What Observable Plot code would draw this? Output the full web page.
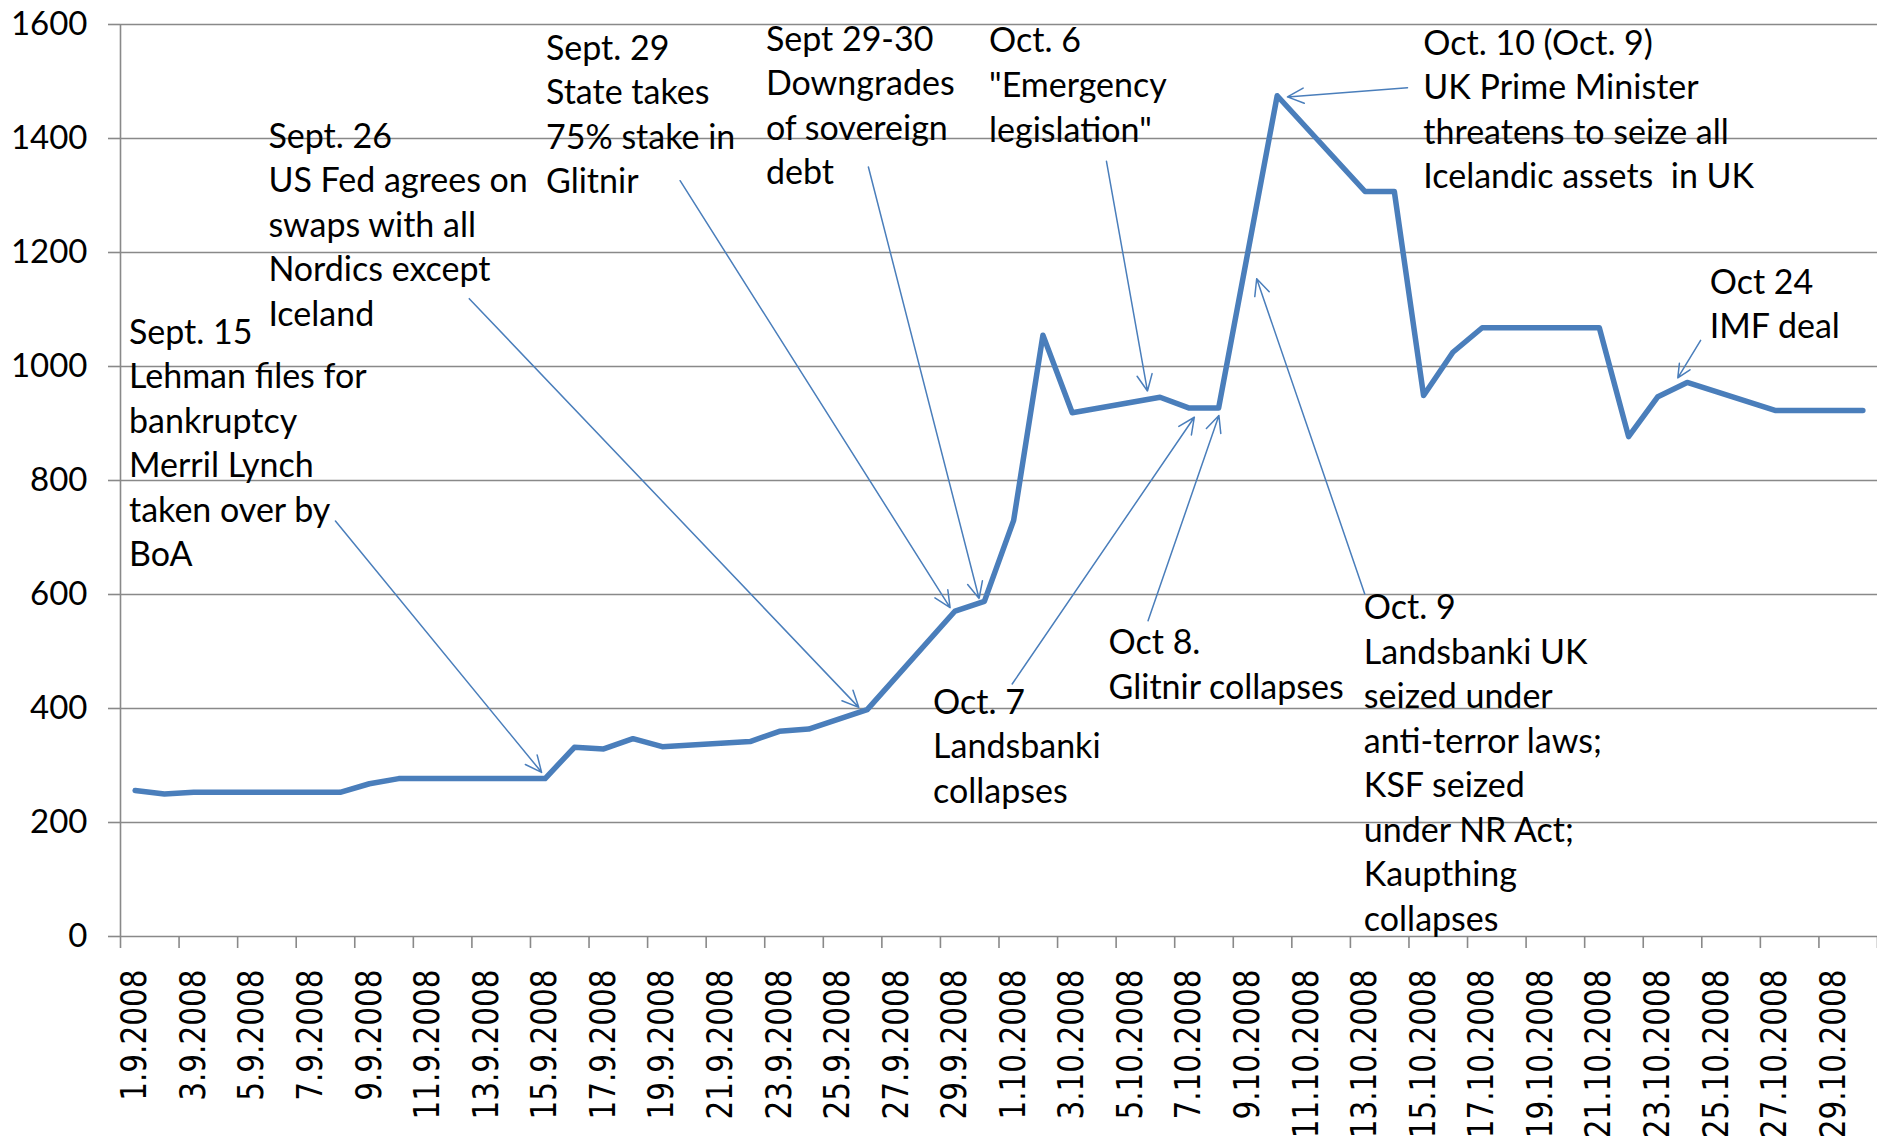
<!DOCTYPE html>
<html><head><meta charset="utf-8">
<script src="https://cdn.jsdelivr.net/npm/d3@7"></script>
<script src="https://cdn.jsdelivr.net/npm/@observablehq/plot@0.6"></script>
<style>html,body{margin:0;padding:0;background:#fff;} #chart svg{display:block;}</style>
</head><body><div id="chart"></div>
<script>
// ---- data ----
const dates = ["1.9.2008","2.9.2008","3.9.2008","4.9.2008","5.9.2008","8.9.2008","9.9.2008","10.9.2008","11.9.2008","12.9.2008",
  "15.9.2008","16.9.2008","17.9.2008","18.9.2008","19.9.2008","22.9.2008","23.9.2008","24.9.2008","26.9.2008","29.9.2008",
  "30.9.2008","1.10.2008","2.10.2008","3.10.2008","6.10.2008","7.10.2008","8.10.2008","10.10.2008","13.10.2008","14.10.2008",
  "15.10.2008","16.10.2008","17.10.2008","20.10.2008","21.10.2008","22.10.2008","23.10.2008","24.10.2008","27.10.2008","28.10.2008",
  "29.10.2008","30.10.2008"];
const values = [256,250,253,253,253,253,268,277,277,277,
  277,332,329,347,333,342,360,364,398,571,
  588,730,1055,919,946,927,927,1475,1307,1307,
  949,1025,1068,1068,1068,877,947,972,923,923,
  923,923];
const tickLabels = ["1.9.2008","3.9.2008","5.9.2008","7.9.2008","9.9.2008","11.9.2008","13.9.2008","15.9.2008","17.9.2008","19.9.2008",
  "21.9.2008","23.9.2008","25.9.2008","27.9.2008","29.9.2008","1.10.2008","3.10.2008","5.10.2008","7.10.2008","9.10.2008",
  "11.10.2008","13.10.2008","15.10.2008","17.10.2008","19.10.2008","21.10.2008","23.10.2008","25.10.2008","27.10.2008","29.10.2008"];
const yTicks = [0,200,400,600,800,1000,1200,1400,1600];

// annotations (positions in data space: day index from 1.9.2008, value)
const noteLabels = [
  "Sept. 15\nLehman files for\nbankruptcy\nMerril Lynch\ntaken over by\nBoA",
  "Sept. 26\nUS Fed agrees on\nswaps with all\nNordics except\nIceland",
  "Sept. 29\nState takes\n75% stake in\nGlitnir",
  "Sept 29-30\nDowngrades\nof sovereign\ndebt",
  "Oct. 6\n\"Emergency\nlegislation\"",
  "Oct. 7\nLandsbanki\ncollapses",
  "Oct 8.\nGlitnir collapses",
  "Oct. 10 (Oct. 9)\nUK Prime Minister\nthreatens to seize all\nIcelandic assets  in UK",
  "Oct. 9\nLandsbanki UK\nseized under\nanti-terror laws;\nKSF seized\nunder NR Act;\nKaupthing\ncollapses",
  "Oct 24\nIMF deal"
];
const noteDay   = [-0.21, 4.55, 14.03, 21.54, 29.16, 27.25, 33.24, 43.99, 41.96, 53.77];
const noteValue = [1040, 1384, 1538, 1554, 1551, 391, 495, 1547, 557, 1128];
const arrowFromDay   = [6.84, 11.41, 18.61, 25.04, 33.17, 29.95, 34.59, 43.45, 41.99, 53.46];
const arrowFromValue = [729, 1119, 1326, 1350, 1360, 443, 554, 1489, 601, 1046];
const arrowToDay     = [13.88, 24.71, 27.83, 28.82, 34.57, 36.17, 37.01, 39.35, 38.30, 52.68];
const arrowToValue   = [288, 402, 577, 593, 957, 911, 914, 1473, 1154, 980];

// ---- helpers ----
const day0 = Date.UTC(2008, 8, 1);
function dayIndex(s) {
  const [d, m, y] = s.split(".").map(Number);
  return Math.round((Date.UTC(y, m - 1, d) - day0) / 864e5);
}
const series = dates.map((d, i) => ({day: dayIndex(d), value: values[i]}));
const ticksX = tickLabels.map(s => ({day: dayIndex(s), label: s}));
const boundaries = d3.range(31).map(k => -0.5 + 2 * k);
const notes = noteLabels.map((t, i) => ({text: t, day: noteDay[i], value: noteValue[i]}));
const arrows = arrowFromDay.map((d, i) => ({x1: d, y1: arrowFromValue[i], x2: arrowToDay[i], y2: arrowToValue[i]}));

const grey = "#898989";
const blue = "#4a7ebb";
const noteSize = 34, noteLH = 1.31;

const chart = Plot.plot({
  width: 1877,
  height: 1143,
  marginLeft: 120,
  marginRight: 0,
  marginTop: 24,
  marginBottom: 207,
  style: {fontFamily: "Lato", background: "#fff", color: "#000"},
  x: {type: "linear", domain: [-0.5, 59.5]},
  y: {domain: [0, 1600]},
  marks: [
    Plot.ruleY(yTicks, {stroke: grey, strokeWidth: 1.6}),
    Plot.ruleX([-0.5], {stroke: grey, strokeWidth: 1.6}),
    Plot.axisY({ticks: yTicks, tickSize: 12, tickFormat: () => "", stroke: grey, strokeWidth: 1.6}),
    Plot.axisY({ticks: yTicks, tickSize: 0, tickPadding: 33, fontSize: 33, fontFamily: "Lato", fill: "#000", tickFormat: d => String(d)}),
    Plot.axisX({ticks: boundaries, tickSize: 12, tickFormat: () => "", stroke: grey, strokeWidth: 1.6}),
    Plot.text(ticksX, {x: "day", y: () => 0, text: "label", rotate: -90, textAnchor: "end", lineAnchor: "middle",
      dy: 33, fontFamily: "DejaVu Sans", fontSize: 29.5, fill: "#000"}),
    Plot.line(series, {x: "day", y: "value", stroke: blue, strokeWidth: 5.5, strokeLinejoin: "round", strokeLinecap: "round"}),
    Plot.arrow(arrows, {x1: "x1", y1: "y1", x2: "x2", y2: "y2", stroke: blue, strokeWidth: 1.5, headLength: 18, headAngle: 50}),
    Plot.text(notes, {x: "day", y: "value", text: "text", textAnchor: "start", lineAnchor: "top",
      lineHeight: noteLH, dy: -0.71 * noteLH * noteSize, fontSize: noteSize, fontFamily: "Lato", fill: "#000"})
  ]
});
// widen the rotated date labels (the reference glyphs are stretched across)
const labelSet = new Set(tickLabels);
d3.select(chart).selectAll("text").each(function () {
  const t = this.getAttribute("transform") || "";
  if (labelSet.has(this.textContent) && t.includes("rotate")) {
    this.setAttribute("transform", t + " scale(1,1.18)");
  }
});
document.getElementById("chart").appendChild(chart);
</script>
</body></html>
